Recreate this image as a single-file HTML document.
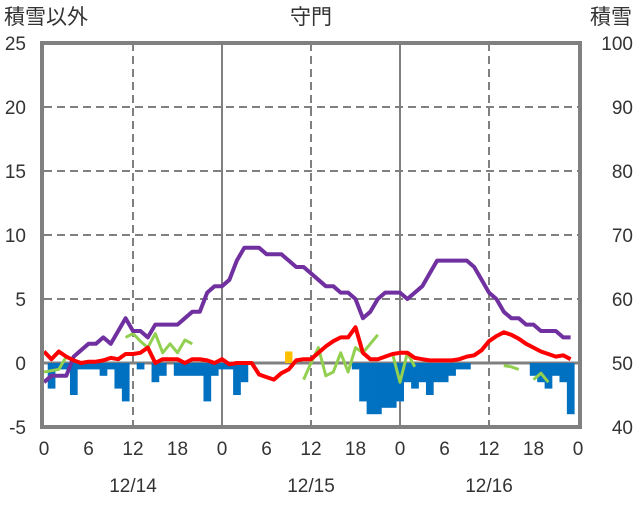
<!DOCTYPE html>
<html><head><meta charset="utf-8"><style>
body{margin:0;background:#fff;width:636px;height:501px;overflow:hidden}
svg text{font-family:"Liberation Sans","Noto Sans CJK JP",sans-serif;fill:#333}
</style></head><body>
<svg id="chart" width="636" height="501" viewBox="0 0 636 501" xmlns="http://www.w3.org/2000/svg">
<text x="4" y="24" font-size="21">積雪以外</text>
<text x="311" y="24" font-size="21" text-anchor="middle">守門</text>
<text x="632" y="24" font-size="21" text-anchor="end">積雪</text>
<g id="grid"></g><g id="bars"></g><g id="lines"></g><g id="axes"></g>
</svg>
<script>
const hours = [];
for (let i = 0; i < 72; i++) hours.push(i);
const leftTicks = [-5, 0, 5, 10, 15, 20, 25];
const rightTicks = [40, 50, 60, 70, 80, 90, 100];
const xTickLabels = ["0","6","12","18","0","6","12","18","0","6","12","18","0"];
const dateLabels = ["12/14","12/15","12/16"];
const snowDepth = [47,48,48,48,51,52,53,53,54,53,55,57,55,55,54,56,56,56,56,57,58,58,61,62,62,63,66,68,68,68,67,67,67,66,65,65,64,63,62,62,61,61,60,57,58,60,61,61,61,60,61,62,64,66,66,66,66,66,65,63,61,60,58,57,57,56,56,55,55,55,54,54];
const temperature = [0.9,0.3,0.9,0.5,0.2,0,0.1,0.1,0.2,0.4,0.3,0.7,0.7,0.8,1.2,0,0.3,0.3,0.3,0,0.3,0.3,0.2,0,0.3,-0.1,0,0,0,-0.9,-1.1,-1.3,-0.8,-0.5,0.2,0.3,0.3,0.8,1.3,1.7,2,2,2.8,0.8,0.3,0.3,0.5,0.7,0.8,0.8,0.4,0.3,0.2,0.2,0.2,0.2,0.3,0.5,0.6,1,1.7,2.1,2.4,2.2,1.9,1.5,1.2,0.9,0.7,0.5,0.6,0.3];
const N = null;
const greenSeries = [-0.7,-0.6,-0.5,0.5,N,N,N,N,N,N,N,2,2.3,1.7,1.2,2.3,0.8,1.5,0.8,1.8,1.5,N,N,N,N,N,N,N,N,N,N,N,N,N,N,-1.3,0,1.2,-1,-0.7,0.8,-0.7,1.2,0.8,1.5,2.2,N,0.7,-1.5,0.8,-0.3,N,N,N,N,N,N,N,N,N,N,N,-0.2,-0.3,-0.5,N,-1.3,-0.8,-1.5,N,N,N];
const blueBars = [0,-2,-0.5,-0.5,-2.5,-0.5,-0.5,-0.5,-1,-0.5,-2,-3,0,-0.5,0,-1.5,-1,0,-1,-1,-1,-1,-3,-1,-0.5,-0.5,-2.5,-1.5,0,0,0,0,0,0,0,0,0,0,0,0,0,0,-0.5,-3,-4,-4,-3.5,-3.5,-3,-1.5,-2,-1.5,-2.5,-1.5,-1.5,-1,-0.5,-0.5,0,0,0,0,0,0,0,0,-1,-1.5,-2,-1,-1.5,-4];
const orangeBars = [];
for (let i = 0; i < 72; i++) orangeBars.push(i === 33 ? 0.9 : 0);

const X0 = 44, X1 = 578, Y0 = 427, Y1 = 43;
const x = h => X0 + (X1 - X0) * h / 72;
const yL = v => Y0 - (v + 5) / 30 * (Y0 - Y1);
const yR = v => Y0 - (v - 40) / 60 * (Y0 - Y1);
const NS = "http://www.w3.org/2000/svg";
function mk(tag, parent, attrs) {
  const e = document.createElementNS(NS, tag);
  for (const k in attrs) e.setAttribute(k, attrs[k]);
  document.getElementById(parent).appendChild(e);
  return e;
}
leftTicks.forEach((t, i) => {
  if (t === -5 || t === 25 || t === 0) return;
  const l = mk("line", "grid", {x1: X0, x2: X1, y1: yL(t), y2: yL(t), stroke: "#808080", "stroke-width": 2, "stroke-dasharray": "8,5"});
  
  
});
for (let h = 6; h < 72; h += 6) {
  if (h % 12 !== 0) continue;
  const solid = h % 24 === 0;
  const l = mk("line", "grid", {x1: x(h), x2: x(h), y1: Y1, y2: Y0, stroke: "#808080", "stroke-width": 2, "stroke-dasharray": solid ? "none" : "8,5"});
  
  
}
const bw = (X1 - X0) / 72;
hours.forEach(h => {
  const v = blueBars[h];
  if (v !== 0) {
    const r = mk("rect", "bars", {x: x(h) - bw / 2, y: yL(0), width: bw + 0.3, height: yL(v) - yL(0), fill: "#0070c0"});
    
    
  }
  const o = orangeBars[h];
  if (o !== 0) {
    const r = mk("rect", "bars", {x: x(h) - bw / 2, y: yL(o), width: bw, height: yL(0) - yL(o), fill: "#ffc000"});
    
    
  }
});
const z = mk("line", "grid", {x1: X0, x2: X1, y1: yL(0), y2: yL(0), stroke: "#808080", "stroke-width": 3});


function segs(arr, yf) {
  let d = "", pen = false;
  arr.forEach((v, i) => {
    if (v === null) { pen = false; return; }
    d += (pen ? "L" : "M") + x(i).toFixed(1) + "," + yf(v).toFixed(1);
    pen = true;
  });
  return d;
}
const g = mk("path", "lines", {d: segs(greenSeries, yL), fill: "none", stroke: "#92d050", "stroke-width": 3, "stroke-linejoin": "round"});


const p = mk("path", "lines", {d: segs(snowDepth, yR), fill: "none", stroke: "#7030a0", "stroke-width": 4, "stroke-linejoin": "round"});


const r = mk("path", "lines", {d: segs(temperature, yL), fill: "none", stroke: "#ff0000", "stroke-width": 4, "stroke-linejoin": "round"});


const f = mk("rect", "axes", {x: X0 - 2, y: Y1, width: X1 - X0 + 4, height: Y0 - Y1, fill: "none", stroke: "#808080", "stroke-width": 4});


leftTicks.forEach(t => {
  const tx = mk("text", "axes", {x: 26, y: yL(t) + 7, "font-size": 19, "text-anchor": "end"});
  tx.textContent = t;
  
  
});
rightTicks.forEach(t => {
  const tx = mk("text", "axes", {x: 633, y: yR(t) + 7, "font-size": 19, "text-anchor": "end"});
  tx.textContent = t;
  
  
});
xTickLabels.forEach((t, i) => {
  const tx = mk("text", "axes", {x: x(i * 6), y: 455, "font-size": 19, "text-anchor": "middle"});
  tx.textContent = t;
  
  
});
dateLabels.forEach((t, i) => {
  const tx = mk("text", "axes", {x: x(i * 24 + 12), y: 492, "font-size": 19, "text-anchor": "middle"});
  tx.textContent = t;
  
  
});
</script>
</body></html>
